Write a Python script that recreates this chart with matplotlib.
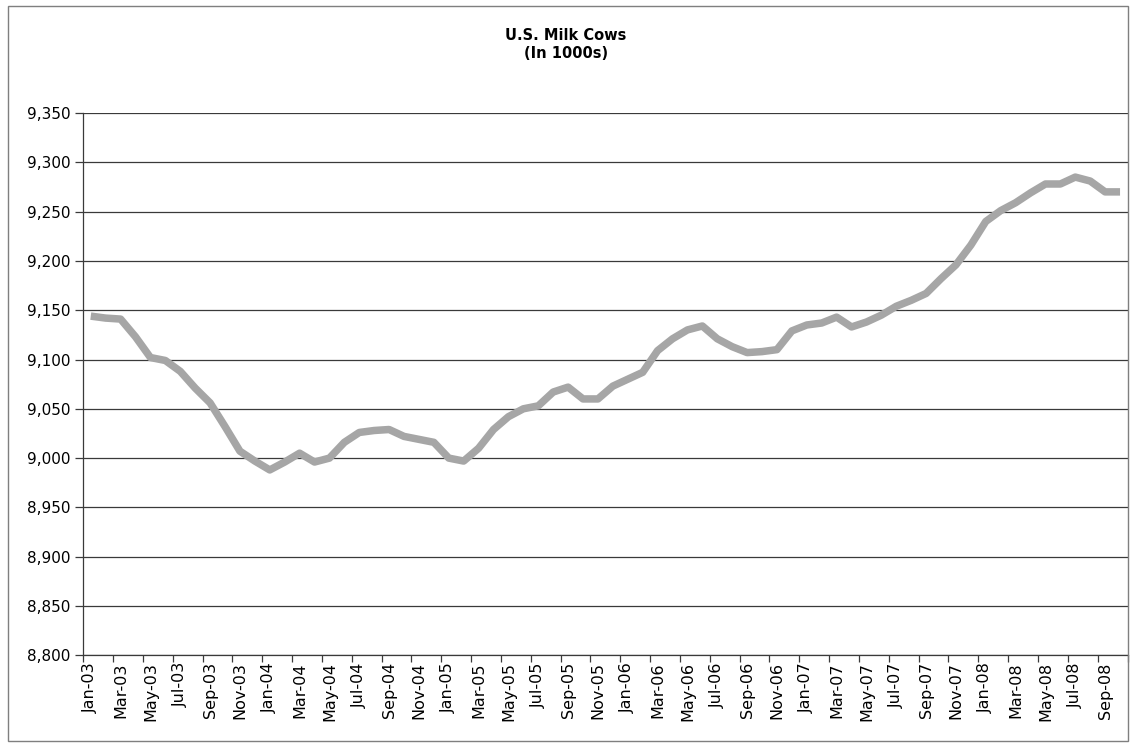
import matplotlib
matplotlib.use("Agg")
import matplotlib.pyplot as plt
from matplotlib.patches import Rectangle
from matplotlib.ticker import FuncFormatter, FixedLocator

# ---- data ----
month_names = ["Jan", "Feb", "Mar", "Apr", "May", "Jun",
               "Jul", "Aug", "Sep", "Oct", "Nov", "Dec"]
years = ["03", "04", "05", "06", "07", "08"]
categories = [f"{m}-{y}" for y in years for m in month_names][:70]  # Jan-03 .. Oct-08

milk_cows = [
    9144, 9142, 9141, 9123, 9102, 9099, 9088, 9071, 9056, 9032, 9007, 8997,
    8988, 8996, 9005, 8996, 9000, 9016, 9026, 9028, 9029, 9022, 9019, 9016,
    9000, 8997, 9010, 9029, 9042, 9050, 9053, 9067, 9072, 9060, 9060, 9073,
    9080, 9087, 9109, 9121, 9130, 9134, 9121, 9113, 9107, 9108, 9110, 9129,
    9135, 9137, 9143, 9133, 9138, 9145, 9154, 9160, 9167, 9182, 9196, 9216,
    9240, 9251, 9259, 9269, 9278, 9278, 9285, 9281, 9270, 9270,
]
y_ticks = [8800, 8850, 8900, 8950, 9000, 9050, 9100, 9150, 9200, 9250, 9300, 9350]
title_lines = ["U.S. Milk Cows", "(In 1000s)"]

W, H = 1132, 744
fig = plt.figure(figsize=(W / 100, H / 100), dpi=100)
fig.patch.set_facecolor("white")

# chart border
fig.patches.append(Rectangle((7.5 / W, 1 - 741 / H), (1127.5 - 7.5) / W, (741 - 5.5) / H,
                             transform=fig.transFigure, fill=False,
                             edgecolor="#7f7f7f", linewidth=1.0))

left, right, top, bottom = 83.3, 1127.5, 113.0, 655.3
ax = fig.add_axes([left / W, 1 - bottom / H, (right - left) / W, (bottom - top) / H])

x = list(range(len(categories)))
ax.plot(x, milk_cows, color="#a6a6a6", linewidth=5.4,
        solid_joinstyle="round", solid_capstyle="butt", zorder=3)

ax.set_xlim(-0.5, len(categories) - 0.5)
ax.set_ylim(y_ticks[0], y_ticks[-1])

ax.set_yticks(y_ticks)
ax.yaxis.set_major_formatter(FuncFormatter(lambda v, p: f"{int(v):,}"))
ax.grid(axis="y", color="#3a3a3a", linewidth=0.9, zorder=1)
ax.set_axisbelow(True)

# tick marks between categories, labels at category centres
ax.xaxis.set_major_locator(FixedLocator([i - 0.5 for i in range(0, len(categories) + 1, 2)]))
ax.xaxis.set_major_formatter(FuncFormatter(lambda v, p: ""))
ax.xaxis.set_minor_locator(FixedLocator(list(range(0, len(categories), 2))))
ax.set_xticklabels([categories[i] for i in range(0, len(categories), 2)], minor=True,
                   rotation=90, fontsize=11.5)
ax.tick_params(axis="x", which="major", length=5, width=0.9, color="#3a3a3a", direction="out")
ax.tick_params(axis="x", which="minor", length=0, pad=5)
ax.tick_params(axis="y", which="major", length=6, width=0.9, color="#3a3a3a",
               direction="out", labelsize=11, pad=3)

for s in ["top", "right"]:
    ax.spines[s].set_visible(False)
for s in ["left", "bottom"]:
    ax.spines[s].set_color("#3a3a3a")
    ax.spines[s].set_linewidth(0.9)

fig.text(566 / W, 1 - 36 / H, title_lines[0], ha="center", va="center",
         fontsize=10.5, fontweight="bold")
fig.text(566 / W, 1 - 53 / H, title_lines[1], ha="center", va="center",
         fontsize=10.5, fontweight="bold")

fig.savefig("out.png", dpi=100, facecolor="white")
